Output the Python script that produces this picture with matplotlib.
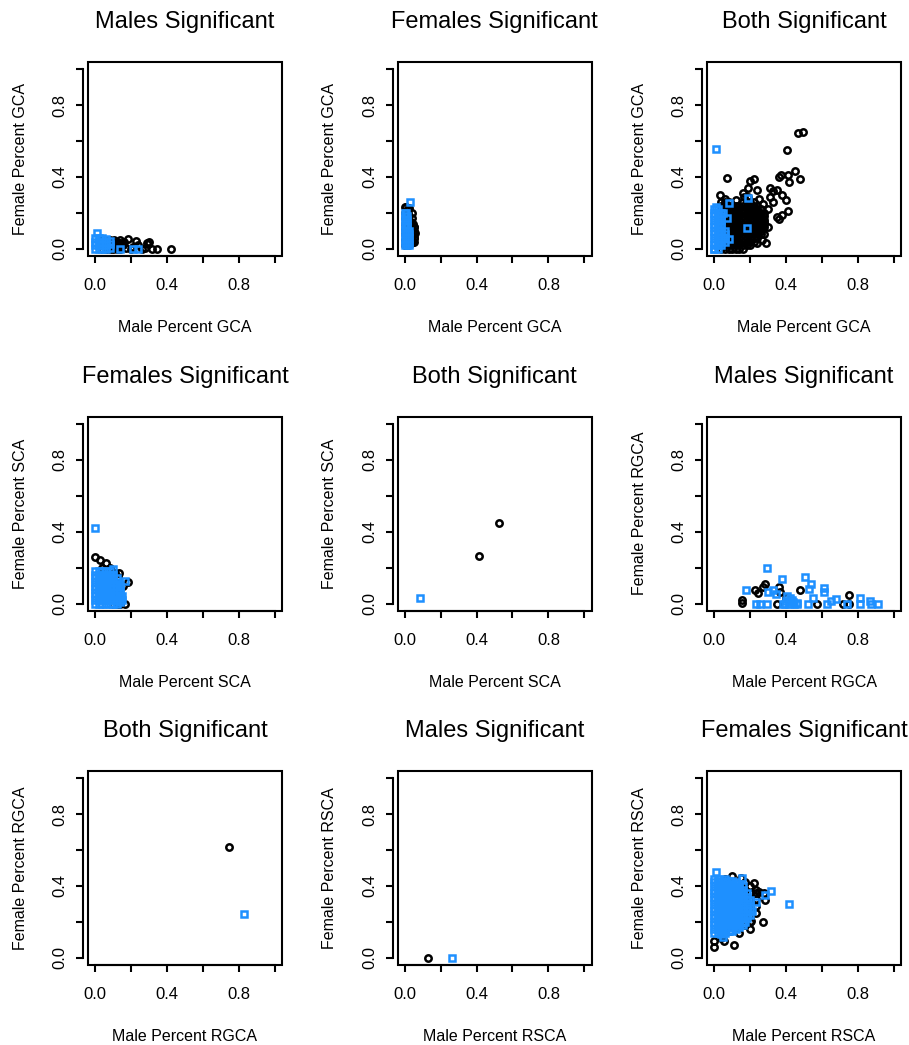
import matplotlib
matplotlib.use("Agg")
import matplotlib.pyplot as plt
from matplotlib.patches import Rectangle

plt.rcParams['font.family'] = ['Liberation Sans', 'DejaVu Sans']

BLUE = '#1E90FF'

titles = ["Males Significant", "Females Significant", "Both Significant",
          "Females Significant", "Both Significant", "Males Significant",
          "Both Significant", "Males Significant", "Females Significant"]
measures = ["GCA", "GCA", "GCA", "SCA", "SCA", "RGCA", "RGCA", "RSCA", "RSCA"]

# --- panel 1: males significant, GCA ---
p1_black = [(0.424, 0.0), (0.344, 0.0), (0.315, 0.0), (0.300, 0.038), (0.287, 0.034),
            (0.292, 0.026), (0.227, 0.043), (0.184, 0.053), (0.137, 0.047), (0.262, 0.0),
            (0.280, 0.006), (0.200, 0.0), (0.170, 0.004), (0.155, 0.022), (0.120, 0.030),
            (0.105, 0.050), (0.160, 0.040), (0.110, 0.004), (0.130, 0.012), (0.240, 0.020),
            (0.212, 0.010)]
p1_black_cols = [(0.04, [0.0, 0.02, 0.04, 0.05]), (0.06, [0.0, 0.02, 0.04, 0.05]),
                 (0.08, [0.0, 0.02, 0.04, 0.05]), (0.10, [0.0, 0.02, 0.04]),
                 (0.12, [0.0, 0.02, 0.04]), (0.14, [0.0, 0.02, 0.035])]
p1_blue = [(0.010, 0.090), (0.137, 0.0), (0.210, 0.0), (0.240, 0.0)]
p1_blue_cols = [(0.0, [0.0, 0.02, 0.04, 0.06]), (0.02, [0.0, 0.02, 0.04, 0.06]),
                (0.04, [0.0, 0.02, 0.04, 0.06]), (0.06, [0.0, 0.02, 0.04, 0.055]),
                (0.08, [0.005, 0.025, 0.045])]

# --- panel 2: females significant, GCA ---
p2_black = [(0.01, 0.235), (0.025, 0.225), (0.04, 0.20), (0.05, 0.12), (0.055, 0.09),
            (0.05, 0.06), (0.045, 0.04), (0.03, 0.15), (0.04, 0.17), (0.045, 0.14)]
p2_black_cols = [(0.0, [0.02, 0.05, 0.08, 0.11, 0.14, 0.17, 0.20, 0.23]),
                 (0.02, [0.02, 0.04, 0.06, 0.08, 0.10, 0.12, 0.14, 0.16, 0.18, 0.20, 0.22]),
                 (0.035, [0.03, 0.05, 0.07, 0.09, 0.11, 0.13, 0.15]),
                 (0.05, [0.04, 0.06, 0.08, 0.10, 0.12])]
p2_blue = [(0.03, 0.26), (0.005, 0.20)]
p2_blue_cols = [(0.0, [0.02, 0.04, 0.06, 0.08, 0.10, 0.12, 0.14, 0.16, 0.18, 0.20]),
                (0.015, [0.02, 0.04, 0.06, 0.08, 0.10, 0.12, 0.14, 0.16, 0.18]),
                (0.025, [0.02, 0.04, 0.06, 0.08, 0.10])]

# --- panel 3: both significant, GCA ---
p3_black = [(0.468, 0.644), (0.493, 0.650), (0.408, 0.550), (0.451, 0.434), (0.410, 0.410),
            (0.370, 0.410), (0.360, 0.400), (0.478, 0.388), (0.418, 0.370), (0.070, 0.396),
            (0.200, 0.375), (0.220, 0.390), (0.190, 0.340), (0.240, 0.330), (0.310, 0.340),
            (0.330, 0.320), (0.350, 0.330), (0.380, 0.300), (0.330, 0.260), (0.400, 0.270),
            (0.410, 0.210), (0.380, 0.190), (0.350, 0.175), (0.360, 0.165), (0.260, 0.137),
            (0.275, 0.085), (0.290, 0.034), (0.165, 0.290), (0.190, 0.290), (0.030, 0.300),
            (0.300, 0.220), (0.270, 0.250), (0.250, 0.280), (0.310, 0.290), (0.160, 0.310),
            (0.120, 0.270), (0.280, 0.150), (0.300, 0.120), (0.265, 0.050), (0.240, 0.030)]
p3_black_cols = [
    (0.04, [0.00, 0.02, 0.04, 0.06, 0.08, 0.10, 0.12, 0.14, 0.16, 0.18, 0.20, 0.22, 0.24, 0.26]),
    (0.06, [0.00, 0.02, 0.04, 0.06, 0.08, 0.10, 0.12, 0.14, 0.16, 0.18, 0.20, 0.22, 0.24, 0.26, 0.28]),
    (0.08, [0.00, 0.02, 0.04, 0.06, 0.08, 0.10, 0.12, 0.14, 0.16, 0.18, 0.20, 0.22, 0.24, 0.26]),
    (0.10, [0.00, 0.02, 0.04, 0.06, 0.08, 0.10, 0.12, 0.14, 0.16, 0.18, 0.20, 0.22, 0.24]),
    (0.12, [0.00, 0.02, 0.04, 0.06, 0.08, 0.10, 0.12, 0.14, 0.16, 0.18, 0.20, 0.22, 0.24]),
    (0.14, [0.00, 0.02, 0.04, 0.06, 0.08, 0.10, 0.12, 0.14, 0.16, 0.18, 0.20, 0.22, 0.24]),
    (0.16, [0.00, 0.02, 0.04, 0.06, 0.08, 0.10, 0.12, 0.14, 0.16, 0.18, 0.20, 0.22, 0.24, 0.26]),
    (0.18, [0.02, 0.04, 0.06, 0.08, 0.10, 0.12, 0.14, 0.16, 0.18, 0.20, 0.22, 0.24, 0.26]),
    (0.20, [0.02, 0.04, 0.06, 0.08, 0.10, 0.12, 0.14, 0.16, 0.18, 0.20, 0.22, 0.24, 0.26]),
    (0.22, [0.04, 0.06, 0.08, 0.10, 0.12, 0.14, 0.16, 0.18, 0.20, 0.22, 0.24, 0.26]),
    (0.24, [0.06, 0.08, 0.10, 0.12, 0.14, 0.16, 0.18, 0.20, 0.22, 0.24]),
    (0.26, [0.08, 0.10, 0.12, 0.14, 0.16, 0.18, 0.20, 0.22]),
    (0.28, [0.12, 0.14, 0.16, 0.18, 0.20]),
]
p3_blue = [(0.010, 0.556), (0.080, 0.257), (0.190, 0.283), (0.070, 0.170), (0.183, 0.115),
           (0.010, 0.235), (0.085, 0.053), (0.0, 0.0), (0.050, 0.200)]
p3_blue_cols = [
    (0.00, [0.00, 0.02, 0.04, 0.06, 0.08, 0.10, 0.12, 0.14, 0.16, 0.18, 0.20, 0.22]),
    (0.02, [0.00, 0.02, 0.04, 0.06, 0.08, 0.10, 0.12, 0.14, 0.16, 0.18, 0.20, 0.22]),
    (0.04, [0.02, 0.04, 0.06, 0.08, 0.10, 0.12, 0.14, 0.16, 0.18, 0.20]),
    (0.06, [0.04, 0.06, 0.08, 0.10]),
]

# --- panel 4: females significant, SCA ---
p4_black = [(0.0, 0.26), (0.025, 0.245), (0.06, 0.227), (0.18, 0.122), (0.127, 0.146),
            (0.127, 0.09), (0.11, 0.09), (0.165, 0.0), (0.10, 0.0), (0.12, 0.0), (0.14, 0.0),
            (0.13, 0.17), (0.135, 0.06), (0.04, 0.20), (0.08, 0.20), (0.11, 0.17), (0.155, 0.10)]
p4_blue = [(0.0, 0.419), (0.10, 0.19), (0.165, 0.124), (0.15, 0.04), (0.15, 0.02)]
p4_blue_cols = [
    (0.00, [0.00, 0.02, 0.04, 0.06, 0.08, 0.10, 0.12, 0.14, 0.16, 0.18]),
    (0.02, [0.00, 0.02, 0.04, 0.06, 0.08, 0.10, 0.12, 0.14, 0.16, 0.18]),
    (0.04, [0.00, 0.02, 0.04, 0.06, 0.08, 0.10, 0.12, 0.14, 0.16, 0.18]),
    (0.06, [0.00, 0.02, 0.04, 0.06, 0.08, 0.10, 0.12, 0.14, 0.16, 0.18]),
    (0.08, [0.00, 0.02, 0.04, 0.06, 0.08, 0.10, 0.12, 0.14, 0.16, 0.18]),
    (0.10, [0.00, 0.02, 0.04, 0.06, 0.08, 0.10, 0.12, 0.14, 0.16]),
    (0.12, [0.00, 0.02, 0.04, 0.06, 0.08, 0.10, 0.12, 0.14]),
    (0.14, [0.01, 0.03, 0.05, 0.07, 0.09, 0.11]),
]

# --- panel 5: both significant, SCA ---
p5_black = [(0.415, 0.263), (0.527, 0.449)]
p5_blue = [(0.088, 0.030)]

# --- panel 6: males significant, RGCA ---
p6_black = [(0.157, 0.022), (0.157, 0.004), (0.228, 0.073), (0.243, 0.056), (0.282, 0.110),
            (0.273, 0.090), (0.362, 0.092), (0.368, 0.064), (0.350, 0.0), (0.480, 0.073),
            (0.574, 0.0), (0.717, 0.0), (0.750, 0.045), (0.750, 0.0), (0.400, 0.030)]
p6_blue = [(0.176, 0.073), (0.293, 0.200), (0.234, 0.0), (0.256, 0.0), (0.293, 0.0),
           (0.297, 0.066), (0.330, 0.073), (0.343, 0.052), (0.377, 0.137), (0.405, 0.040),
           (0.415, 0.0), (0.433, 0.020), (0.443, 0.0), (0.462, 0.0), (0.503, 0.147),
           (0.526, 0.080), (0.540, 0.110), (0.522, 0.0), (0.550, 0.030), (0.611, 0.087),
           (0.611, 0.064), (0.648, 0.015), (0.676, 0.026), (0.630, 0.0), (0.737, 0.0),
           (0.810, 0.030), (0.810, 0.0), (0.868, 0.012), (0.872, 0.0), (0.910, 0.0),
           (0.383, 0.0), (0.400, 0.015), (0.420, 0.030), (0.440, 0.010), (0.460, 0.005),
           (0.395, 0.0)]

# --- panel 7: both significant, RGCA ---
p7_black = [(0.744, 0.618)]
p7_blue = [(0.828, 0.244)]

# --- panel 8: males significant, RSCA ---
p8_black = [(0.131, 0.0)]
p8_blue = [(0.261, 0.0)]

# --- panel 9: females significant, RSCA ---
p9_black = [(0.0, 0.094), (0.0, 0.060), (0.112, 0.070), (0.270, 0.200), (0.200, 0.160),
            (0.220, 0.417), (0.100, 0.457), (0.150, 0.446), (0.285, 0.320), (0.275, 0.360),
            (0.250, 0.366), (0.090, 0.150), (0.053, 0.094), (0.207, 0.203), (0.060, 0.440),
            (0.040, 0.110), (0.140, 0.140), (0.230, 0.380)]
p9_black_cols = [
    (0.17, [0.18, 0.22, 0.26, 0.30, 0.34, 0.38, 0.42]),
    (0.20, [0.20, 0.24, 0.28, 0.32, 0.36, 0.40]),
    (0.23, [0.25, 0.29, 0.33, 0.36]),
]
p9_blue = [(0.010, 0.475), (0.415, 0.300), (0.317, 0.372), (0.281, 0.347), (0.235, 0.310),
           (0.210, 0.260), (0.050, 0.117), (0.154, 0.447), (0.170, 0.200)]
p9_blue_cols = [
    (0.00, [0.14, 0.16, 0.18, 0.20, 0.22, 0.24, 0.26, 0.28, 0.30, 0.32, 0.34, 0.36, 0.38, 0.40, 0.42, 0.44]),
    (0.02, [0.14, 0.16, 0.18, 0.20, 0.22, 0.24, 0.26, 0.28, 0.30, 0.32, 0.34, 0.36, 0.38, 0.40, 0.42, 0.44]),
    (0.04, [0.13, 0.15, 0.17, 0.19, 0.21, 0.23, 0.25, 0.27, 0.29, 0.31, 0.33, 0.35, 0.37, 0.39, 0.41, 0.43]),
    (0.06, [0.14, 0.16, 0.18, 0.20, 0.22, 0.24, 0.26, 0.28, 0.30, 0.32, 0.34, 0.36, 0.38, 0.40, 0.42, 0.44]),
    (0.08, [0.15, 0.17, 0.19, 0.21, 0.23, 0.25, 0.27, 0.29, 0.31, 0.33, 0.35, 0.37, 0.39, 0.41, 0.43]),
    (0.10, [0.15, 0.17, 0.19, 0.21, 0.23, 0.25, 0.27, 0.29, 0.31, 0.33, 0.35, 0.37, 0.39, 0.41, 0.43]),
    (0.12, [0.16, 0.18, 0.20, 0.22, 0.24, 0.26, 0.28, 0.30, 0.32, 0.34, 0.36, 0.38, 0.40, 0.42]),
    (0.14, [0.17, 0.19, 0.21, 0.23, 0.25, 0.27, 0.29, 0.31, 0.33, 0.35, 0.37, 0.39, 0.41]),
    (0.16, [0.18, 0.20, 0.22, 0.24, 0.26, 0.28, 0.30, 0.32, 0.34, 0.36, 0.38, 0.40]),
    (0.18, [0.22, 0.24, 0.26, 0.28, 0.30, 0.32, 0.34, 0.36]),
    (0.20, [0.24, 0.28, 0.32]),
]

black_sets = [(p1_black, p1_black_cols), (p2_black, p2_black_cols), (p3_black, p3_black_cols),
              (p4_black, []), (p5_black, []), (p6_black, []),
              (p7_black, []), (p8_black, []), (p9_black, p9_black_cols)]
blue_sets = [(p1_blue, p1_blue_cols), (p2_blue, p2_blue_cols), (p3_blue, p3_blue_cols),
             (p4_blue, p4_blue_cols), (p5_blue, []), (p6_blue, []),
             (p7_blue, []), (p8_blue, []), (p9_blue, p9_blue_cols)]


def gather(pts, cols):
    xs = [p[0] for p in pts]
    ys = [p[1] for p in pts]
    for cx, cys in cols:
        for cy in cys:
            xs.append(cx)
            ys.append(cy)
    return xs, ys


W, H = 909, 1045
lefts = [88, 397.5, 707]
tops = [62, 416.7, 771]
box = 194

fig = plt.figure(figsize=(W / 100, H / 100), dpi=100)

for i in range(9):
    r, c = divmod(i, 3)
    ax = fig.add_axes([lefts[c] / W, 1 - (tops[r] + box) / H, box / W, box / H])
    ax.set_xlim(-0.04, 1.04)
    ax.set_ylim(-0.04, 1.04)

    bx, by = gather(*black_sets[i])
    ax.plot(bx, by, linestyle='none', marker='o', ms=4.6, mew=1.8,
            mfc='none', mec='black', clip_on=False)
    ux, uy = gather(*blue_sets[i])
    ax.plot(ux, uy, linestyle='none', marker='s', ms=4.6, mew=1.8,
            mfc='none', mec=BLUE, clip_on=False)

    # R style box plus detached y axis
    ax.add_patch(Rectangle((0, 0), 1, 1, transform=ax.transAxes, fill=False,
                           lw=1.5, clip_on=False, zorder=5))
    for s in ['top', 'right']:
        ax.spines[s].set_visible(False)
    ax.spines['left'].set_position(('outward', 3.6))
    ax.spines['left'].set_bounds(0, 1)
    ax.spines['bottom'].set_bounds(0, 1)
    ax.spines['left'].set_linewidth(1.5)
    ax.spines['bottom'].set_linewidth(1.5)

    ticks = [0.0, 0.2, 0.4, 0.6, 0.8, 1.0]
    labels = ['0.0', '', '0.4', '', '0.8', '']
    ax.set_xticks(ticks)
    ax.set_xticklabels(labels)
    ax.set_yticks(ticks)
    ax.set_yticklabels(labels, rotation=90, va='center')
    ax.tick_params(axis='x', length=5, width=1.5, pad=11, labelsize=12)
    ax.tick_params(axis='y', length=5, width=1.5, pad=6, labelsize=12)

    ax.text(0.5, 1.206, titles[i], transform=ax.transAxes, ha='center', va='center',
            fontsize=17)
    ax.text(0.5, -0.371, "Male Percent " + measures[i], transform=ax.transAxes,
            ha='center', va='center', fontsize=11.5)
    ax.text(-0.35, 0.5, "Female Percent " + measures[i], transform=ax.transAxes,
            ha='center', va='center', rotation=90, fontsize=11.5)

fig.savefig("out.png", dpi=100)
